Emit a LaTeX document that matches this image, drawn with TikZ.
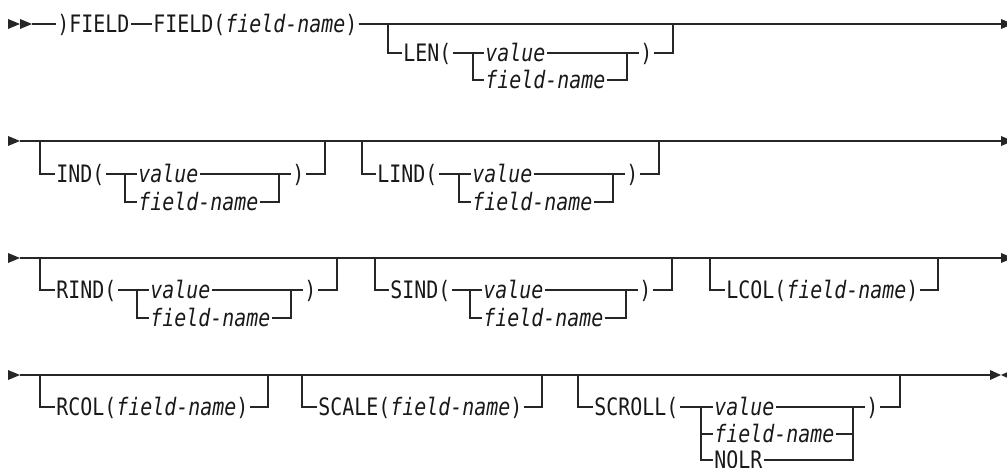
\documentclass[tikz,border=0pt]{standalone}
\usepackage{fontspec}
\newfontfamily\rr[FakeStretch=0.83,ItalicFont={DejaVu Sans Mono Oblique}]{DejaVu Sans Mono}
\newcommand\fname{\textit{field-name}}
\newcommand\vname{\textit{value}}
\tikzset{
  rail/.style={line width=1.1pt, draw=black!85},
  kw/.style={anchor=west, inner xsep=1.2pt, inner ysep=0pt, text height=17.5pt, text depth=0pt,
    font=\rr\fontsize{24pt}{24pt}\selectfont, text=black!90},
  tri/.style={fill=black!85}
}
\begin{document}
\begin{tikzpicture}[x=1pt,y=-1pt]
\useasboundingbox (0,0) rectangle (1007,468);
% ---------- row 1 ----------
\fill[tri] (8,19) -- (20,24) -- (8,29) -- cycle;
\fill[tri] (20,19) -- (32,24) -- (20,29) -- cycle;
\coordinate (s1) at (32,24);
\node[kw] (a1) at (56,24) {)FIELD};
\node[kw] (a2) at (152,24) {FIELD(\fname)};
\coordinate (e1) at (1001,24);
\draw[rail] (s1) -- (a1.west);
\draw[rail] (a1.east) -- (a2.west);
\draw[rail] (a2.east) -- (e1);
\fill[tri] (1001,19) -- (1013,24) -- (1001,29) -- cycle;
% LEN
\coordinate (lenb) at (388,24);
\node[kw] (lenk) at (402,53) {LEN(};
\coordinate (lenc) at (473,53);
\node[kw] (lenv) at (484,53) {\vname};
\node[kw] (lenf) at (484,80) {\fname};
\coordinate (lenrc) at (627,53);
\node[kw] (lenp) at (639,53) {)};
\coordinate (lenr) at (673,24);
\draw[rail] (lenb) |- (lenk.west);
\draw[rail] (lenk.east) -- (lenv.west);
\draw[rail] (lenc) |- (lenf.west);
\draw[rail] (lenv.east) -- (lenp.west);
\draw[rail] (lenf.east) -| (lenrc);
\draw[rail] (lenp.east) -| (lenr);
% ---------- row 2 ----------
\fill[tri] (8,136) -- (20,141) -- (8,146) -- cycle;
\coordinate (s2) at (20,141);
\coordinate (e2) at (1001,141);
\draw[rail] (s2) -- (e2);
\fill[tri] (1001,136) -- (1013,141) -- (1001,146) -- cycle;
% IND
\coordinate (indb) at (40,141);
\node[kw] (indk) at (55,174) {IND(};
\coordinate (indc) at (125,174);
\node[kw] (indv) at (137,174) {\vname};
\node[kw] (indf) at (137,202) {\fname};
\coordinate (indrc) at (279,174);
\node[kw] (indp) at (291,174) {)};
\coordinate (indr) at (325,141);
\draw[rail] (indb) |- (indk.west);
\draw[rail] (indk.east) -- (indv.west);
\draw[rail] (indc) |- (indf.west);
\draw[rail] (indv.east) -- (indp.west);
\draw[rail] (indf.east) -| (indrc);
\draw[rail] (indp.east) -| (indr);
% LIND
\coordinate (lindb) at (362,141);
\node[kw] (lindk) at (376,174) {LIND(};
\coordinate (lindc) at (459,174);
\node[kw] (lindv) at (471,174) {\vname};
\node[kw] (lindf) at (471,202) {\fname};
\coordinate (lindrc) at (613,174);
\node[kw] (lindp) at (625,174) {)};
\coordinate (lindr) at (659,141);
\draw[rail] (lindb) |- (lindk.west);
\draw[rail] (lindk.east) -- (lindv.west);
\draw[rail] (lindc) |- (lindf.west);
\draw[rail] (lindv.east) -- (lindp.west);
\draw[rail] (lindf.east) -| (lindrc);
\draw[rail] (lindp.east) -| (lindr);
% ---------- row 3 ----------
\fill[tri] (8,253) -- (20,258) -- (8,263) -- cycle;
\coordinate (s3) at (20,258);
\coordinate (e3) at (1001,258);
\draw[rail] (s3) -- (e3);
\fill[tri] (1001,253) -- (1013,258) -- (1001,263) -- cycle;
% RIND
\coordinate (rindb) at (40,258);
\node[kw] (rindk) at (55,290) {RIND(};
\coordinate (rindc) at (137,290);
\node[kw] (rindv) at (149,290) {\vname};
\node[kw] (rindf) at (149,318) {\fname};
\coordinate (rindrc) at (291,290);
\node[kw] (rindp) at (303,290) {)};
\coordinate (rindr) at (337,258);
\draw[rail] (rindb) |- (rindk.west);
\draw[rail] (rindk.east) -- (rindv.west);
\draw[rail] (rindc) |- (rindf.west);
\draw[rail] (rindv.east) -- (rindp.west);
\draw[rail] (rindf.east) -| (rindrc);
\draw[rail] (rindp.east) -| (rindr);
% SIND
\coordinate (sindb) at (375,258);
\node[kw] (sindk) at (389,290) {SIND(};
\coordinate (sindc) at (470,290);
\node[kw] (sindv) at (482,290) {\vname};
\node[kw] (sindf) at (482,318) {\fname};
\coordinate (sindrc) at (626,290);
\node[kw] (sindp) at (638,290) {)};
\coordinate (sindr) at (672,258);
\draw[rail] (sindb) |- (sindk.west);
\draw[rail] (sindk.east) -- (sindv.west);
\draw[rail] (sindc) |- (sindf.west);
\draw[rail] (sindv.east) -- (sindp.west);
\draw[rail] (sindf.east) -| (sindrc);
\draw[rail] (sindp.east) -| (sindr);
% LCOL
\coordinate (lcolb) at (710,258);
\node[kw] (lcolk) at (725,290) {LCOL(\fname)};
\coordinate (lcolr) at (938,258);
\draw[rail] (lcolb) |- (lcolk.west);
\draw[rail] (lcolk.east) -| (lcolr);
% ---------- row 4 ----------
\fill[tri] (8,370) -- (20,375) -- (8,380) -- cycle;
\coordinate (s4) at (20,375);
\coordinate (e4) at (990,375);
\draw[rail] (s4) -- (e4);
\fill[tri] (990,370) -- (1001,375) -- (990,380) -- cycle;
\fill[tri] (1012,370) -- (1001,375) -- (1012,380) -- cycle;
% RCOL
\coordinate (rcolb) at (40,375);
\node[kw] (rcolk) at (55,407) {RCOL(\fname)};
\coordinate (rcolr) at (268,375);
\draw[rail] (rcolb) |- (rcolk.west);
\draw[rail] (rcolk.east) -| (rcolr);
% SCALE
\coordinate (scalb) at (302,375);
\node[kw] (scalk) at (317,407) {SCALE(\fname)};
\coordinate (scalr) at (542,375);
\draw[rail] (scalb) |- (scalk.west);
\draw[rail] (scalk.east) -| (scalr);
% SCROLL
\coordinate (scrb) at (578,375);
\node[kw] (scrk) at (593,407) {SCROLL(};
\coordinate (scrc) at (701,407);
\node[kw] (scrv) at (713,407) {\vname};
\node[kw] (scrf) at (713,434) {\fname};
\node[kw] (scrn) at (713,460) {NOLR};
\coordinate (scrrc) at (853,407);
\node[kw] (scrp) at (865,407) {)};
\coordinate (scrr) at (900,375);
\draw[rail] (scrb) |- (scrk.west);
\draw[rail] (scrk.east) -- (scrv.west);
\draw[rail] (scrc) |- (scrn.west);
\draw[rail] (scrc |- scrf.west) -- (scrf.west);
\draw[rail] (scrv.east) -- (scrp.west);
\draw[rail] (scrn.east) -| (scrrc);
\draw[rail] (scrf.east) -- (scrrc |- scrf.east);
\draw[rail] (scrp.east) -| (scrr);
\end{tikzpicture}
\end{document}
